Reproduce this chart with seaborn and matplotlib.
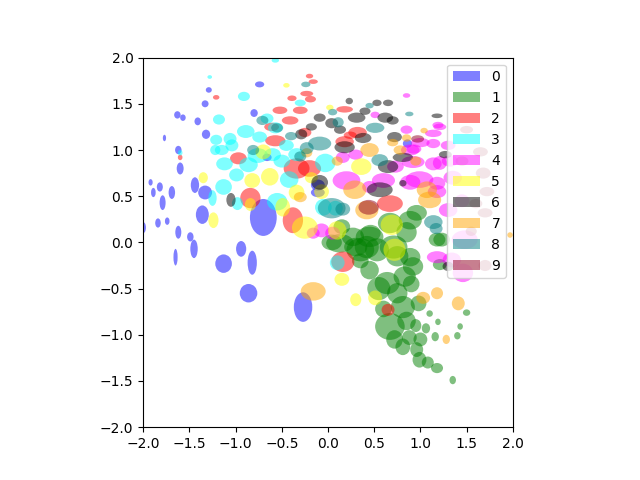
import numpy as np
import matplotlib
matplotlib.use("Agg")
import matplotlib.pyplot as plt
import matplotlib.patches as mpatches
from matplotlib.patches import Ellipse
import seaborn as sns

# class colours, index = class label
class_colors = ['blue', 'green', 'red', 'cyan', 'magenta',
                'yellow', 'black', 'orange', 'teal', '#900020']
class_names = [str(i) for i in range(10)]

# one ellipse per sample: class, centre x, centre y, width, height
cls = []
cx = []
cy = []
ew = []
eh = []

def add(label, rows):
    for x, y, w, h in rows:
        cls.append(label)
        cx.append(x)
        cy.append(y)
        ew.append(w)
        eh.append(h)

# 0 - blue
add(0, [(-1.29, 1.65, 0.065, 0.06), (-0.74, 1.71, 0.10, 0.065), (-1.33, 1.50, 0.075, 0.075),
        (-1.63, 1.38, 0.07, 0.08), (-1.57, 1.35, 0.06, 0.07), (-1.41, 1.31, 0.07, 0.085),
        (-0.80, 1.40, 0.08, 0.085), (-1.32, 1.17, 0.09, 0.10), (-1.77, 1.13, 0.035, 0.07),
        (-1.62, 1.00, 0.07, 0.09), (-1.60, 0.80, 0.075, 0.13), (-1.92, 0.65, 0.045, 0.07),
        (-1.89, 0.54, 0.05, 0.10), (-1.82, 0.60, 0.065, 0.10), (-1.69, 0.54, 0.07, 0.14),
        (-1.79, 0.43, 0.065, 0.16), (-1.44, 0.62, 0.09, 0.17), (-1.33, 0.54, 0.15, 0.15),
        (-1.36, 0.30, 0.14, 0.20), (-0.70, 0.27, 0.29, 0.40), (-1.84, 0.21, 0.06, 0.10),
        (-1.74, 0.23, 0.05, 0.08), (-1.62, 0.11, 0.065, 0.14), (-1.49, 0.06, 0.07, 0.10),
        (-2.00, 0.16, 0.06, 0.12), (-1.65, -0.16, 0.045, 0.18), (-1.45, -0.07, 0.08, 0.20),
        (-1.13, -0.23, 0.18, 0.20), (-0.94, -0.07, 0.11, 0.17), (-0.82, -0.22, 0.10, 0.26),
        (-0.86, -0.55, 0.19, 0.20), (-0.27, -0.70, 0.20, 0.32), (-0.11, 0.62, 0.15, 0.12),
        (0.86, 1.07, 0.10, 0.09), (-0.66, 0.92, 0.10, 0.08), (-0.11, 0.54, 0.15, 0.10)])
# 1 - green
add(1, [(0.04, 0.00, 0.22, 0.17), (0.27, 0.06, 0.24, 0.20), (0.42, -0.05, 0.26, 0.24),
        (0.53, -0.08, 0.26, 0.25), (0.85, 0.11, 0.22, 0.22), (1.23, 0.03, 0.18, 0.15),
        (0.96, 0.32, 0.22, 0.17), (0.67, 0.21, 0.26, 0.22), (0.64, -0.44, 0.27, 0.24),
        (0.83, -0.37, 0.24, 0.22), (0.92, -0.26, 0.22, 0.20), (0.67, -0.91, 0.32, 0.29),
        (0.81, -0.70, 0.26, 0.24), (0.98, -0.66, 0.17, 0.17), (0.60, -0.72, 0.18, 0.18),
        (1.50, -0.76, 0.08, 0.07), (1.43, -0.91, 0.06, 0.07), (1.40, -1.01, 0.07, 0.08),
        (1.19, -0.86, 0.06, 0.07), (1.10, -0.77, 0.07, 0.07), (1.16, -1.02, 0.08, 0.10),
        (1.06, -0.93, 0.09, 0.11), (0.95, -0.90, 0.12, 0.14), (0.81, -1.13, 0.16, 0.18),
        (0.96, -1.16, 0.14, 0.16), (0.99, -1.27, 0.15, 0.17), (1.08, -1.30, 0.13, 0.13),
        (1.18, -1.36, 0.13, 0.11), (1.35, -1.49, 0.07, 0.09), (0.88, -1.03, 0.16, 0.16),
        (0.46, 0.10, 0.22, 0.18), (0.15, 0.17, 0.18, 0.16), (0.75, -0.15, 0.24, 0.22),
        (0.35, -0.20, 0.18, 0.16), (1.21, -0.24, 0.15, 0.12), (0.13, -0.01, 0.30, 0.20),
        (0.35, -0.08, 0.30, 0.25), (0.71, -0.05, 0.30, 0.25), (0.45, 0.06, 0.30, 0.22),
        (0.89, -0.16, 0.22, 0.20), (1.18, 0.03, 0.18, 0.15), (0.89, 0.24, 0.25, 0.20),
        (0.55, -0.50, 0.25, 0.25), (0.75, -0.55, 0.22, 0.22), (0.90, -0.45, 0.18, 0.18),
        (0.72, -1.05, 0.18, 0.20), (0.85, -0.85, 0.20, 0.20), (1.00, -1.05, 0.15, 0.15),
        (0.45, -0.30, 0.20, 0.20), (0.30, -0.05, 0.25, 0.20)])
# 2 - red
add(2, [(-1.21, 1.57, 0.07, 0.05), (-0.20, 1.80, 0.08, 0.05), (-0.16, 1.74, 0.10, 0.05),
        (-0.23, 1.61, 0.14, 0.06), (-0.39, 1.56, 0.10, 0.06), (-0.19, 1.55, 0.12, 0.07),
        (-0.52, 1.43, 0.16, 0.08), (-0.30, 1.43, 0.16, 0.08), (-0.41, 1.32, 0.18, 0.09),
        (-0.61, 1.25, 0.16, 0.09), (-0.57, 1.10, 0.22, 0.12), (-0.97, 0.91, 0.18, 0.13),
        (-0.34, 0.80, 0.28, 0.22), (-0.20, 0.80, 0.25, 0.18), (-0.84, 0.48, 0.22, 0.22),
        (-0.38, 0.24, 0.22, 0.28), (-1.60, 0.92, 0.05, 0.06), (0.18, 1.44, 0.18, 0.07),
        (0.18, 1.09, 0.20, 0.12), (0.32, 1.19, 0.20, 0.12), (0.67, 0.42, 0.28, 0.18),
        (0.16, -0.21, 0.25, 0.22), (0.65, -0.73, 0.14, 0.13), (-0.25, 1.19, 0.14, 0.10),
        (0.24, 1.16, 0.14, 0.08)])
# 3 - cyan
add(3, [(-0.57, 1.97, 0.08, 0.05), (-1.28, 1.79, 0.05, 0.04), (-0.91, 1.58, 0.13, 0.10),
        (-1.18, 1.33, 0.13, 0.11), (-0.89, 1.20, 0.19, 0.14), (-1.06, 1.12, 0.14, 0.13),
        (-1.21, 1.11, 0.13, 0.11), (-0.74, 1.14, 0.16, 0.12), (-0.66, 1.34, 0.14, 0.11),
        (-0.57, 1.24, 0.16, 0.12), (-1.22, 1.00, 0.11, 0.11), (-1.15, 1.00, 0.15, 0.11),
        (-1.04, 1.05, 0.14, 0.13), (-1.12, 0.85, 0.18, 0.14), (-0.86, 0.84, 0.20, 0.16),
        (-0.99, 0.73, 0.16, 0.14), (-1.13, 0.60, 0.18, 0.17), (-1.25, 0.48, 0.09, 0.17),
        (-0.55, 0.44, 0.22, 0.19), (-0.76, 0.94, 0.22, 0.16), (-0.60, 0.95, 0.18, 0.14),
        (-0.34, 0.95, 0.18, 0.14), (-0.30, 1.51, 0.12, 0.07), (-0.42, 0.68, 0.20, 0.18),
        (-0.05, 0.38, 0.18, 0.18), (0.08, 0.37, 0.16, 0.16), (0.10, -0.22, 0.16, 0.16),
        (-0.45, 1.05, 0.16, 0.12), (-1.60, 0.97, 0.05, 0.06), (-0.03, 0.86, 0.22, 0.20),
        (-0.50, 0.88, 0.18, 0.14), (-0.98, 0.42, 0.12, 0.14)])
# 4 - magenta
add(4, [(0.85, 1.59, 0.08, 0.05), (0.51, 1.38, 0.10, 0.07), (0.85, 1.22, 0.13, 0.09),
        (1.21, 1.25, 0.14, 0.07), (1.14, 1.18, 0.18, 0.08), (1.19, 1.27, 0.12, 0.07),
        (1.00, 1.08, 0.20, 0.10), (0.93, 1.01, 0.16, 0.10), (0.89, 0.65, 0.22, 0.16),
        (0.99, 0.68, 0.30, 0.18), (0.73, 0.82, 0.18, 0.13), (1.14, 0.85, 0.18, 0.14),
        (0.30, 0.95, 0.16, 0.11), (0.60, 0.67, 0.25, 0.16), (0.20, 0.67, 0.30, 0.20),
        (1.18, 0.55, 0.20, 0.14), (-0.07, 0.13, 0.17, 0.15), (0.05, 0.10, 0.16, 0.14),
        (1.18, -0.16, 0.22, 0.13), (1.34, -0.19, 0.20, 0.16), (1.46, -0.33, 0.22, 0.20),
        (1.48, 0.03, 0.28, 0.20), (1.32, 0.88, 0.18, 0.12), (1.35, 0.70, 0.20, 0.15),
        (1.30, 1.05, 0.16, 0.10), (1.45, 0.45, 0.16, 0.14), (0.45, 0.60, 0.16, 0.13),
        (1.30, 0.35, 0.20, 0.15), (0.16, 0.92, 0.15, 0.12), (0.92, 0.87, 0.25, 0.13),
        (0.89, 1.00, 0.20, 0.12), (1.14, 1.07, 0.15, 0.10), (1.21, 0.86, 0.15, 0.15),
        (1.18, 0.64, 0.18, 0.14), (-0.16, 0.10, 0.14, 0.12)])
# 5 - yellow
add(5, [(-0.45, 1.70, 0.07, 0.05), (-0.70, 0.98, 0.17, 0.16), (-0.63, 0.71, 0.19, 0.19),
        (-0.82, 0.67, 0.17, 0.16), (-1.35, 0.70, 0.10, 0.12), (-1.24, 0.24, 0.11, 0.17),
        (-0.84, 0.41, 0.12, 0.14), (-0.49, 0.38, 0.16, 0.20), (-0.25, 0.16, 0.28, 0.24),
        (-0.34, 0.54, 0.17, 0.17), (0.36, 0.82, 0.22, 0.18), (0.51, -0.60, 0.15, 0.16),
        (0.15, -0.40, 0.16, 0.14), (0.72, -0.08, 0.24, 0.24), (0.69, 0.19, 0.24, 0.22),
        (0.02, 1.46, 0.08, 0.06), (-0.07, 0.55, 0.16, 0.16), (0.10, 0.13, 0.20, 0.20),
        (-0.18, 0.70, 0.14, 0.12), (0.30, -0.62, 0.12, 0.14)])
# 6 - black
add(6, [(-1.05, 0.46, 0.10, 0.15), (-0.09, 1.35, 0.13, 0.09), (-0.29, 1.17, 0.13, 0.11),
        (0.23, 1.53, 0.08, 0.07), (0.04, 1.29, 0.14, 0.11), (0.31, 1.35, 0.19, 0.11),
        (0.53, 1.51, 0.10, 0.07), (0.65, 1.51, 0.11, 0.07), (0.62, 1.35, 0.17, 0.11),
        (0.70, 1.32, 0.13, 0.09), (1.18, 1.37, 0.12, 0.05), (0.38, 1.13, 0.18, 0.11),
        (0.72, 1.14, 0.16, 0.11), (0.81, 0.92, 0.22, 0.10), (0.65, 0.82, 0.22, 0.14),
        (0.56, 0.57, 0.28, 0.16), (0.81, 0.64, 0.08, 0.07), (-0.09, 0.65, 0.18, 0.16),
        (0.13, 1.22, 0.13, 0.09), (1.27, 0.95, 0.14, 0.08), (0.18, 1.03, 0.22, 0.13),
        (1.30, -0.26, 0.12, 0.10), (0.40, 1.42, 0.12, 0.08), (-0.18, 1.25, 0.12, 0.08)])
# 7 - orange
add(7, [(-0.16, -0.53, 0.27, 0.20), (-0.30, 0.49, 0.14, 0.11), (1.04, 1.21, 0.08, 0.06),
        (0.45, 1.00, 0.20, 0.15), (0.85, 1.13, 0.10, 0.08), (0.29, 0.57, 0.25, 0.20),
        (1.07, 0.57, 0.22, 0.18), (1.10, 0.46, 0.25, 0.18), (1.03, -0.60, 0.15, 0.13),
        (1.18, -0.55, 0.13, 0.13), (1.41, -0.66, 0.14, 0.15), (1.28, -1.05, 0.08, 0.10),
        (1.97, 0.08, 0.06, 0.06), (0.95, 0.88, 0.12, 0.10), (0.10, 0.88, 0.12, 0.10),
        (0.70, 1.08, 0.12, 0.08), (0.42, 0.35, 0.25, 0.20), (0.78, 1.00, 0.14, 0.10),
        (-0.23, 0.97, 0.12, 0.10)])
# 8 - teal
add(8, [(-0.71, 1.32, 0.13, 0.10), (-0.24, 1.71, 0.10, 0.06), (0.05, 1.41, 0.10, 0.07),
        (-0.55, 1.24, 0.13, 0.10), (0.11, 1.30, 0.12, 0.11), (0.45, 1.48, 0.09, 0.06),
        (0.88, 1.39, 0.09, 0.05), (0.51, 1.24, 0.20, 0.11), (0.56, 0.89, 0.18, 0.13),
        (-0.09, 1.07, 0.25, 0.15), (-0.23, 1.02, 0.15, 0.13), (-0.81, 1.00, 0.13, 0.11),
        (0.04, 0.37, 0.30, 0.22), (1.14, 0.22, 0.20, 0.15), (1.17, 0.15, 0.14, 0.12),
        (-0.40, 1.15, 0.13, 0.09), (-0.30, 0.93, 0.13, 0.11), (0.16, 0.36, 0.16, 0.14)])
# 9 - maroon
add(9, [(0.44, 0.38, 0.22, 0.16), (0.97, 1.12, 0.14, 0.08), (1.50, 1.22, 0.14, 0.08),
        (1.65, 0.98, 0.16, 0.10), (1.45, 0.88, 0.14, 0.10), (1.68, 0.75, 0.16, 0.12),
        (1.72, 0.55, 0.16, 0.10), (1.60, 0.42, 0.14, 0.10), (1.70, 0.32, 0.16, 0.10),
        (1.55, 0.12, 0.12, 0.10), (1.70, -0.25, 0.14, 0.12)])

palette = sns.color_palette(class_colors)

fig, ax = plt.subplots(figsize=(6.4, 4.8), dpi=100)
for k, x, y, w, h in zip(cls, cx, cy, ew, eh):
    ax.add_patch(Ellipse((x, y), width=w, height=h, facecolor=palette[k],
                         alpha=0.5, linewidth=0))

ax.set_xlim(-2, 2)
ax.set_ylim(-2, 2)
ax.set_aspect('equal')

handles = [mpatches.Patch(facecolor=palette[i], edgecolor='none', alpha=0.5,
                          label=class_names[i]) for i in range(10)]
ax.legend(handles=handles, loc='upper right')

fig.savefig('out.png', dpi=100)
